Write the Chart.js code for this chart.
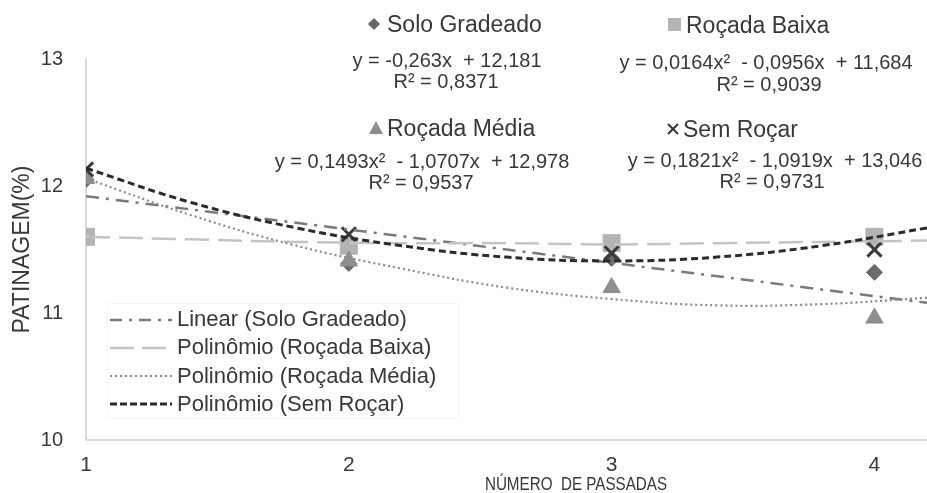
<!DOCTYPE html>
<html><head><meta charset="utf-8">
<script src="https://cdn.jsdelivr.net/npm/chart.js@4.4.1/dist/chart.umd.min.js"></script>
<style>
html,body{margin:0;padding:0;background:#fff;}
#wrap{position:relative;width:927px;height:493px;overflow:hidden;font-family:"Liberation Sans",Arial,sans-serif;color:#383838;}
canvas{position:absolute;left:0;top:0;}
svg{position:absolute;left:0;top:0;}
.t{position:absolute;white-space:pre;line-height:1;transform:translate(-50%,-50%);font-size:20px;}
.n{position:absolute;white-space:pre;line-height:1;transform:translateY(-50%);font-size:23px;}
.lg{position:absolute;white-space:pre;line-height:1;transform:translateY(-50%);font-size:22px;left:177px;}
.xt{position:absolute;white-space:pre;line-height:1;transform:translate(-50%,-50%) scaleX(0.8);font-size:19px;}
#lgbox{position:absolute;left:107px;top:303px;width:350px;height:114px;border:1px solid #f6f6f6;background:#fff;}
</style></head><body>
<div id="wrap">
<canvas id="c" width="927" height="493"></canvas>
<div id="lgbox"></div>
<svg width="927" height="493">
  <polygon points="374,18 380,24 374,30 368,24" fill="#666666"/>
  <rect x="668" y="18" width="13" height="13" fill="#b3b3b3"/>
  <polygon points="376,121 383,134 369,134" fill="#8e8e8e"/>
  <line x1="668" y1="124" x2="678" y2="134" stroke="#333" stroke-width="2"/>
  <line x1="678" y1="124" x2="668" y2="134" stroke="#333" stroke-width="2"/>
  <line x1="110" y1="320" x2="172" y2="320" stroke="#7a7a7a" stroke-width="2.5" stroke-dasharray="12 7 3 7"/>
  <line x1="110" y1="348" x2="172" y2="348" stroke="#c4c4c4" stroke-width="2.5" stroke-dasharray="24 8"/>
  <line x1="110" y1="376" x2="172" y2="376" stroke="#8a8a8a" stroke-width="2.2" stroke-dasharray="2 3"/>
  <line x1="110" y1="404" x2="172" y2="404" stroke="#2b2b2b" stroke-width="3" stroke-dasharray="7 3"/>
</svg>
<div class="n" style="left:387px;top:24px">Solo Gradeado</div>
<div class="t" style="left:447px;top:60px">y = -0,263x  + 12,181</div>
<div class="t" style="left:446px;top:81px">R² = 0,8371</div>
<div class="n" style="left:686px;top:25px">Roçada Baixa</div>
<div class="t" style="left:766px;top:62px">y = 0,0164x²  - 0,0956x  + 11,684</div>
<div class="t" style="left:769px;top:84px">R² = 0,9039</div>
<div class="n" style="left:387px;top:128px">Roçada Média</div>
<div class="t" style="left:422px;top:161px">y = 0,1493x²  - 1,0707x  + 12,978</div>
<div class="t" style="left:421px;top:182px">R² = 0,9537</div>
<div class="n" style="left:683px;top:129px">Sem Roçar</div>
<div class="t" style="left:775px;top:160px">y = 0,1821x²  - 1,0919x  + 13,046</div>
<div class="t" style="left:772px;top:181px">R² = 0,9731</div>
<div class="lg" style="top:319px">Linear (Solo Gradeado)</div>
<div class="lg" style="top:347px">Polinômio (Roçada Baixa)</div>
<div class="lg" style="top:376px">Polinômio (Roçada Média)</div>
<div class="lg" style="top:404px">Polinômio (Sem Roçar)</div>
<div class="xt" style="left:576px;top:483px">NÚMERO  DE PASSADAS</div>
</div>
<script>
// ---- data ----
const passadas = [1, 2, 3, 4];
const soloGradeado = [12.05, 11.39, 11.43, 11.32];
const rocadaBaixa = [11.60, 11.53, 11.55, 11.60];
const rocadaMedia = [12.06, 11.41, 11.20, 10.96];
const semRocar = [12.13, 11.62, 11.47, 11.50];

const trendLinearX = [1, 4.2];
const trendSolo = [11.92, 11.08];
const trendX = [1, 1.4, 1.8, 2.2, 2.6, 3.0, 3.4, 3.8, 4.2];
const trendBaixa = [11.60, 11.58, 11.56, 11.55, 11.55, 11.54, 11.55, 11.56, 11.57];
const trendMedia = [12.06, 11.77, 11.53, 11.35, 11.20, 11.11, 11.06, 11.07, 11.12];
const trendSem = [12.14, 11.87, 11.67, 11.53, 11.44, 11.41, 11.44, 11.53, 11.67];

const xTicks = [1, 2, 3, 4];
const yTicks = [10, 11, 12, 13];
const yTitle = 'PATINAGEM(%)';

const pts = (xs, ys) => xs.map((x, i) => ({x: x, y: ys[i]}));
const FONT = '"Liberation Sans", Arial, sans-serif';

const trend = (data, color, width, dash, order, tension) => ({
  data, showLine: true, borderColor: color, borderWidth: width, borderDash: dash,
  pointRadius: 0, pointHoverRadius: 0, tension: tension, fill: false, order
});
const marks = (data, style, radius, bg, border, bw, order) => ({
  data, showLine: false, pointStyle: style, pointRadius: radius, pointHoverRadius: radius,
  backgroundColor: bg, borderColor: border, pointBorderWidth: bw, borderWidth: bw, order
});

new Chart(document.getElementById('c'), {
  type: 'scatter',
  data: {
    datasets: [
      trend(pts(trendX, trendSem), '#2b2b2b', 3, [7, 4], 1, 0.4),
      trend(pts(trendX, trendMedia), '#8a8a8a', 2.2, [2, 3], 2, 0.4),
      trend(pts(trendX, trendBaixa), '#c4c4c4', 2.5, [24, 9], 3, 0.4),
      trend(pts(trendLinearX, trendSolo), '#7a7a7a', 2.5, [13, 7, 3, 7], 4, 0),
      marks(pts(passadas, semRocar), 'crossRot', 10, '#3a3a3a', '#3a3a3a', 3, 5),
      marks(pts(passadas, rocadaMedia), 'triangle', 10, '#8e8e8e', '#8e8e8e', 1, 6),
      marks(pts(passadas, rocadaBaixa), 'rect', 12, '#b3b3b3', '#b3b3b3', 1, 7),
      marks(pts(passadas, soloGradeado), 'rectRot', 8, '#6a6a6a', '#6a6a6a', 1, 8)
    ]
  },
  options: {
    responsive: false, animation: false, devicePixelRatio: 1,
    layout: {autoPadding: false, padding: {top: 59, right: 0, left: 0, bottom: 0}},
    plugins: {legend: {display: false}, tooltip: {enabled: false}},
    scales: {
      x: {
        type: 'linear', min: 1, max: 4.2,
        afterBuildTicks: s => { s.ticks = xTicks.map(v => ({value: v})); },
        afterFit: s => { s.height = 53; s.paddingLeft = 0; s.paddingRight = 0; },
        grid: {display: false, drawTicks: false},
        border: {display: true, color: '#d9d9d9', width: 2},
        ticks: {padding: 13, color: '#383838', font: {family: FONT, size: 21}}
      },
      y: {
        type: 'linear', min: 10, max: 13,
        afterBuildTicks: s => { s.ticks = yTicks.map(v => ({value: v})); },
        afterFit: s => { s.width = 86; },
        grid: {display: false, drawTicks: false},
        border: {display: true, color: '#d9d9d9', width: 2},
        ticks: {padding: 23, color: '#383838', font: {family: FONT, size: 20}},
        title: {display: true, text: yTitle, color: '#383838', font: {family: FONT, size: 23}, padding: {top: 9, bottom: 0}}
      }
    }
  }
});
</script>
</body></html>
